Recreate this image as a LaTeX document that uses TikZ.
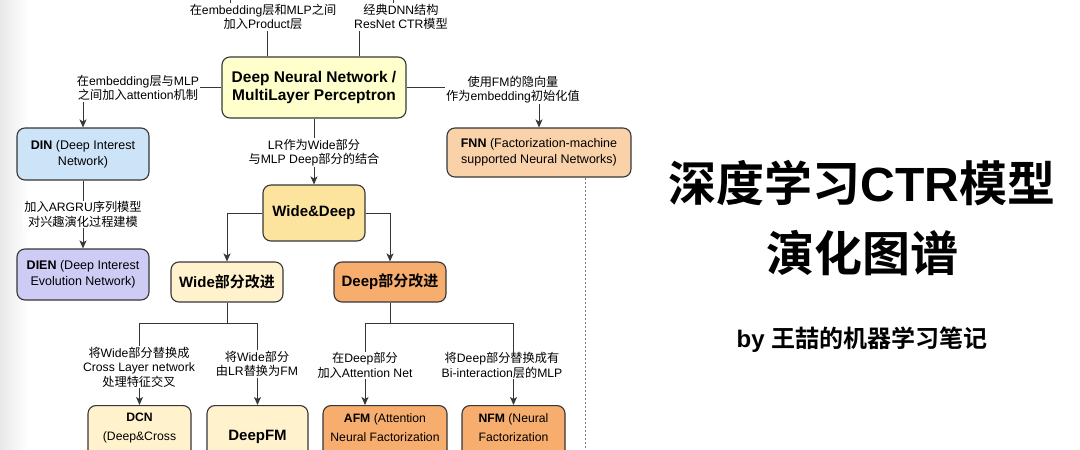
\documentclass[tikz,border=0pt]{standalone}
\usepackage{fontspec}
\setmainfont{Liberation Sans}
\newfontfamily\cjk{Noto Sans CJK SC}[BoldFont={Noto Sans CJK SC Bold}]
\usetikzlibrary{arrows.meta,positioning}

% switch to the CJK font for Han characters
\XeTeXinterchartokenstate=1
\newcount\cjkcode
\cjkcode=0
\loop\ifnum\cjkcode<"80 \XeTeXcharclass\cjkcode=0 \advance\cjkcode by 1 \repeat
\cjkcode="3000
\loop\ifnum\cjkcode<"A000 \XeTeXcharclass\cjkcode=10 \advance\cjkcode by 1 \repeat
\cjkcode="FF00
\loop\ifnum\cjkcode<"FFF0 \XeTeXcharclass\cjkcode=10 \advance\cjkcode by 1 \repeat
\XeTeXinterchartoks 0 10 = {\cjk}
\XeTeXinterchartoks 4095 10 = {\cjk}
\XeTeXinterchartoks 10 0 = {\rmfamily}
\XeTeXinterchartoks 10 4095 = {\rmfamily}

\definecolor{linegray}{HTML}{363636}
\definecolor{dnnyellow}{HTML}{FFFFCC}
\definecolor{dinblue}{HTML}{CDE3F8}
\definecolor{dienpurple}{HTML}{CECBF5}
\definecolor{fnnpeach}{HTML}{F9D2AA}
\definecolor{wdgold}{HTML}{FDE49E}
\definecolor{widecream}{HTML}{FFF2CC}
\definecolor{deeporange}{HTML}{F6AD6E}

\tikzset{
  box/.style={draw=linegray, line width=1.1pt, rounded corners=8pt, align=center, inner sep=0pt},
  modeltext/.style={font=\fontsize{12.5}{16}\selectfont},
  bigtext/.style={font=\fontsize{15}{17.5}\selectfont\bfseries},
  lowtext/.style={align=center, inner sep=0pt, font=\fontsize{12.2}{19}\selectfont},
  conn/.style={draw=linegray, line width=1pt, -{Stealth[length=8pt,width=7pt,inset=2pt]}},
  plain/.style={draw=linegray, line width=1pt},
  lbl/.style={fill=white, align=center, inner sep=1pt, font=\fontsize{12.2}{14.5}\selectfont}
}

\begin{document}
\begin{tikzpicture}[x=1pt,y=-1pt]
\useasboundingbox (0,0) rectangle (1080,450);
\clip (0,0) rectangle (1080,450);
\shade[left color=black!9, right color=white] (0,0) rectangle (28,450);

% model boxes
\node[box, fill=dnnyellow, minimum width=184pt, minimum height=61pt, font=\fontsize{15.5}{17.5}\selectfont\bfseries] (dnn) at (314,87.5) {Deep Neural Network /\\MultiLayer Perceptron};
\node[box, modeltext, fill=dinblue, minimum width=132pt, minimum height=52pt] (din) at (83,154) {\textbf{DIN} (Deep Interest\\Network)};
\node[box, modeltext, fill=dienpurple, minimum width=132pt, minimum height=51pt] (dien) at (83,274.5) {\textbf{DIEN} (Deep Interest\\Evolution Network)};
\node[box, modeltext, fill=fnnpeach, minimum width=184pt, minimum height=49pt] (fnn) at (539,152.5) {\textbf{FNN} (Factorization-machine\\supported Neural Networks)};
\node[box, bigtext, fill=wdgold, minimum width=102pt, minimum height=56pt] (wd) at (314,213) {Wide\&Deep};
\node[box, bigtext, fill=widecream, minimum width=112pt, minimum height=40pt] (wide) at (227,282) {Wide部分改进};
\node[box, bigtext, fill=deeporange, minimum width=112pt, minimum height=40pt] (deep) at (390,282) {Deep部分改进};

% bottom row, cut by the frame
\node[box, fill=widecream, minimum width=103pt, minimum height=72pt, anchor=north] (dcn) at (139.5,405) {};
\node[box, fill=widecream, minimum width=101pt, minimum height=72pt, anchor=north] (deepfm) at (257.5,405) {};
\node[box, fill=deeporange, minimum width=124pt, minimum height=72pt, anchor=north] (afm) at (385,405) {};
\node[box, fill=deeporange, minimum width=103pt, minimum height=72pt, anchor=north] (nfm) at (513.5,405) {};
\node[lowtext, anchor=north] (dcn text) at ([yshift=-8pt]dcn.north) {\textbf{DCN}\\(Deep\&Cross};
\node[lowtext, font=\fontsize{15}{19}\selectfont\bfseries] (deepfm text) at (257.5,437) {DeepFM};
\node[lowtext, anchor=north] (afm text) at ([yshift=-8pt]afm.north) {\textbf{AFM} (Attention\\Neural Factorization};
\node[lowtext, anchor=north] (nfm text) at ([yshift=-8pt]nfm.north) {\textbf{NFM} (Neural\\Factorization};

% connectors
\coordinate (pnn top) at (230,-20);
\coordinate (dc top) at (393,-20);
\draw[conn] ([xshift=-47pt]dnn.north) -- ++(0,-39) -| (pnn top);
\draw[conn] ([xshift=45pt]dnn.north) -- ++(0,-39) -| (dc top);
\draw[conn] (dnn.west) -| (din.north);
\draw[conn] (din) -- (dien);
\draw[conn] (dnn.east) -| (fnn.north);
\draw[conn] (dnn) -- (wd);
\draw[conn] (wd.west) -| (wide.north);
\draw[conn] (wd.east) -| (deep.north);
\draw[plain] (wide.south) -- ++(0,21) coordinate (wide fork);
\draw[conn] (wide fork) -| (dcn.north);
\draw[conn] (wide fork) -| (deepfm.north);
\draw[plain] (deep.south) -- ++(0,21) coordinate (deep fork);
\draw[conn] (deep fork) -| ([xshift=-20pt]afm.north);
\draw[conn] (deep fork) -| (nfm.north);
\draw[gray, line width=1pt, dash pattern=on 2pt off 2pt] ([xshift=46pt]fnn.south) -- ++(0,300);

% edge labels
\node[lbl] (pnn lbl) at (263,17) {在embedding层和MLP之间\\加入Product层};
\node[lbl] (dc lbl) at (401,17) {经典DNN结构\\ResNet CTR模型};
\node[lbl] (din lbl) at (138,88) {在embedding层与MLP\\之间加入attention机制};
\node[lbl] (fnn lbl) at (513,89.5) {使用FM的隐向量\\作为embedding初始化值};
\node[lbl] (wd lbl) at (314,152.5) {LR作为Wide部分\\与MLP Deep部分的结合};
\node[lbl] (dien lbl) at (83,214.5) {加入ARGRU序列模型\\对兴趣演化过程建模};
\node[lbl] (dcn lbl) at (139,367) {将Wide部分替换成\\Cross Layer network\\处理特征交叉};
\node[lbl] (deepfm lbl) at (257,364) {将Wide部分\\由LR替换为FM};
\node[lbl] (afm lbl) at (365,365.5) {在Deep部分\\加入Attention Net};
\node[lbl] (nfm lbl) at (502,365.5) {将Deep部分替换成有\\Bi-interaction层的MLP};

% title
\node[align=center, font=\fontsize{48}{70}\selectfont\bfseries] (title) at (862,218) {深度学习CTR模型\\演化图谱};
\node[font=\fontsize{24}{28}\selectfont\bfseries] (byline) at (862,340) {by 王喆的机器学习笔记};
\end{tikzpicture}
\end{document}
